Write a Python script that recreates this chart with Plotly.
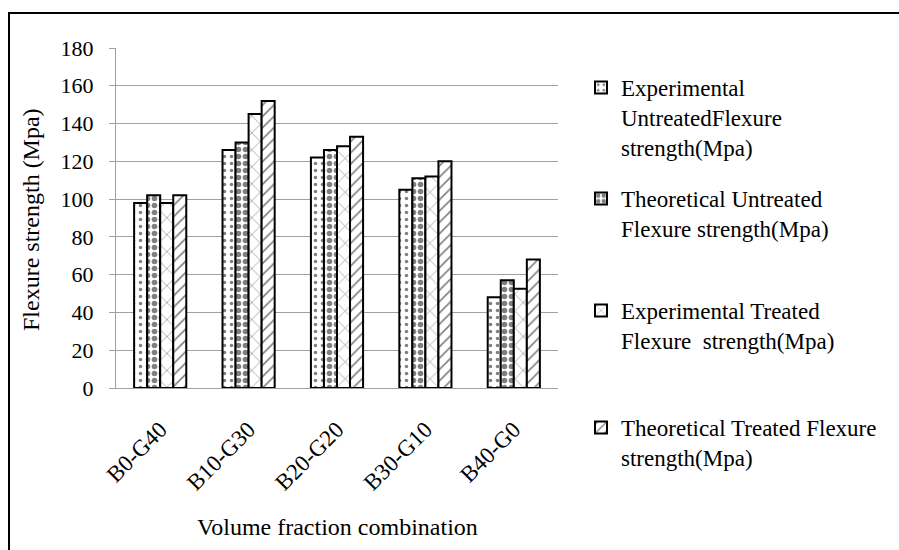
import plotly.graph_objects as go

categories = ["B0-G40", "B10-G30", "B20-G20", "B30-G10", "B40-G0"]
exp_untreated = [98, 126, 122, 105, 48]
theo_untreated = [102, 130, 126, 111, 57]
exp_treated = [98, 145, 128, 112, 52.5]
theo_treated = [102, 152, 133, 120, 68]

series_names = [
    "Experimental<br>UntreatedFlexure<br>strength(Mpa)",
    "Theoretical Untreated<br>Flexure strength(Mpa)",
    "Experimental Treated<br>Flexure  strength(Mpa)",
    "Theoretical Treated Flexure<br>strength(Mpa)",
]
series_values = [exp_untreated, theo_untreated, exp_treated, theo_treated]

patterns = [
    dict(shape=".", size=7, solidity=0.2),
    dict(shape=".", size=7, solidity=0.5),
    dict(shape="x", size=12, solidity=0.1),
    dict(shape="/", size=8, solidity=0.2),
]

W, H = 899, 550
L, R, T, B = 116, 558, 48, 388
pw, ph = R - L, B - T

def px_x(x):
    return (x - L) / pw

def px_y(y):
    return (B - y) / ph

FONT = "Liberation Serif, Times New Roman, serif"

fig = go.Figure()
legend_names = ["legend", "legend2", "legend3", "legend4"]
for i, (name, vals) in enumerate(zip(series_names, series_values)):
    pat = patterns[i]
    fig.add_trace(go.Bar(
        x=categories, y=vals, name=name,
        marker=dict(color="white", line=dict(color="black", width=2),
                    pattern=dict(shape=pat["shape"], size=pat["size"], solidity=pat["solidity"],
                                 fgcolor="black", bgcolor="white", fillmode="overlay")),
        legend=legend_names[i],
    ))

legend_tops = [66, 177, 289, 406]
legend_common = dict(xanchor="left", yanchor="top", font=dict(family=FONT, size=23, color="black"),
                     bgcolor="rgba(0,0,0,0)", valign="top", itemwidth=30)
layout_legends = {}
for i, ln in enumerate(legend_names):
    layout_legends[ln] = dict(x=px_x(581), y=px_y(legend_tops[i]), **legend_common)

fig.update_layout(
    width=W, height=H,
    margin=dict(l=L, r=W - R, t=T, b=H - B, pad=0),
    plot_bgcolor="white", paper_bgcolor="white",
    barmode="group", bargap=0.41, bargroupgap=0,
    font=dict(family=FONT, size=22, color="black"),
    showlegend=True,
    **layout_legends,
)

fig.update_yaxes(range=[0, 180], dtick=20, showgrid=True, gridcolor="#a0a0a0", gridwidth=1,
                 showline=True, linecolor="#a0a0a0", linewidth=1, ticks="outside", ticklen=6,
                 tickcolor="#a0a0a0", zeroline=False, ticklabelstandoff=11,
                 tickfont=dict(family=FONT, size=22, color="black"))
fig.update_xaxes(showline=True, linecolor="#a0a0a0", linewidth=1, ticks="", tickangle=-45,
                 tickfont=dict(family=FONT, size=23, color="black"), ticklabelstandoff=18)

fig.add_annotation(text="Volume fraction combination", xref="paper", yref="paper",
                   x=0.5, y=px_y(527), xanchor="center", yanchor="middle", showarrow=False,
                   font=dict(family=FONT, size=24, color="black"))
fig.add_annotation(text="Flexure strength (Mpa)", xref="paper", yref="paper",
                   x=px_x(31), y=px_y(220), xanchor="center", yanchor="middle", showarrow=False,
                   textangle=-90, font=dict(family=FONT, size=24, color="black"))

fig.add_shape(type="rect", xref="paper", yref="paper",
              x0=px_x(9), y0=px_y(570), x1=px_x(920), y1=px_y(13),
              line=dict(color="black", width=2), fillcolor="rgba(0,0,0,0)", layer="below")

fig.write_html("out.html")
